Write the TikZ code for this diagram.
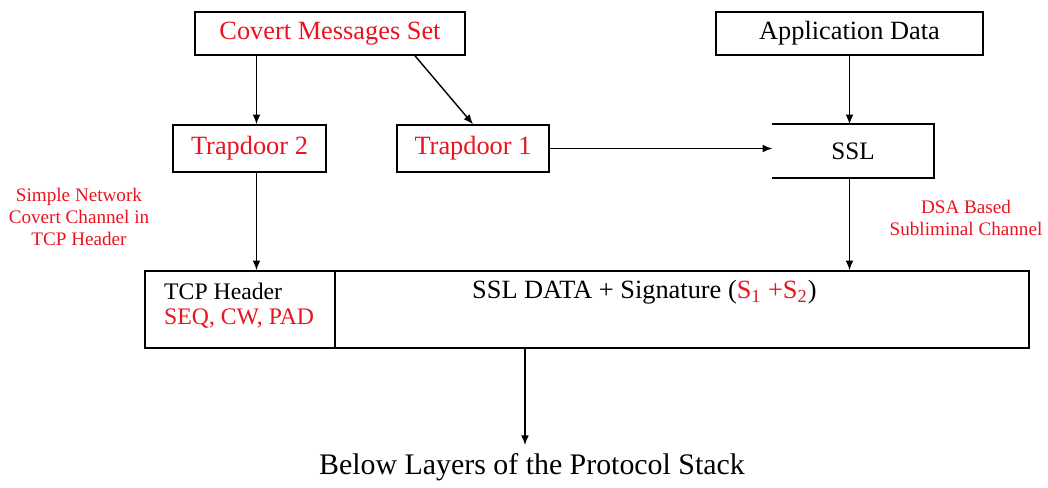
\documentclass[tikz,border=0pt]{standalone}
\usepackage{fontspec}
\setmainfont{Liberation Serif}
\usetikzlibrary{arrows.meta}
\usetikzlibrary{positioning}
\usetikzlibrary{calc}
\definecolor{covred}{RGB}{232,20,32}
\tikzstyle{block}=[rectangle,draw=black,line width=0.9pt,fill=white,inner sep=0pt,font=\fontsize{15}{17}\selectfont]
\tikzstyle{redlabel}=[text=covred]
\tikzstyle{note}=[text=covred,align=center,font=\fontsize{10.9}{12.5}\selectfont]
\tikzstyle{arr}=[-{Latex[length=5.5pt,width=4.5pt]},line width=0.8pt]

\begin{document}
\begin{tikzpicture}[x=0.02cm,y=-0.02cm]
\useasboundingbox (0,0) rectangle (1048,487);

%top row
    \node[block,redlabel,minimum width=5.4cm,minimum height=0.86cm] (cms) at (330,33.5) {Covert Messages Set};
    \node[block,minimum width=5.34cm,minimum height=0.86cm] (app) at (849.5,33.5) {Application Data};

%trapdoors and SSL
    \node[block,redlabel,minimum width=3.06cm,minimum height=0.94cm] (td2) at (249.5,148.5) {Trapdoor 2};
    \node[block,redlabel,minimum width=3.04cm,minimum height=0.94cm] (td1) at (473,148.5) {Trapdoor 1};
    \node[block,draw=none,fill=none,font=\fontsize{14.3}{16}\selectfont,minimum width=3.2cm,minimum height=1.04cm] (ssl) at (853,151) {SSL};
    \draw[line width=0.9pt] (ssl.north west) -- (ssl.north east) -- (ssl.south east) -- (ssl.south west);

%packet
    \node[block,minimum width=3.8cm,minimum height=1.54cm] (tcp) at (240,309.5) {};
    \node[block,minimum width=13.88cm,minimum height=1.54cm] (data) at (682,309.5) {};
    \node[anchor=west,font=\fontsize{13.5}{16}\selectfont] (tcph) at (158,291) {TCP Header};
    \node[anchor=west,redlabel,font=\fontsize{13.5}{16}\selectfont] (seq) at (158,319) {SEQ, CW, PAD};
    \node[anchor=west,font=\fontsize{15}{17}\selectfont] (sig) at (466,292) {SSL DATA + Signature (\textcolor{covred}{S\textsubscript{1} +S\textsubscript{2}})};

%notes
    \node[note] (simple) at (79,217) {Simple Network\\Covert Channel in\\TCP Header};
    \node[note] (dsa) at (966,218) {DSA Based\\Subliminal Channel};

    \node[font=\fontsize{17}{20}\selectfont] (below) at (532,467) {Below Layers of the Protocol Stack};
    \coordinate (dn) at (525,445);

%arrows
    \draw[arr] ([xshift=0.14cm]td2.north |- cms.south) -- ([xshift=0.14cm]td2.north);
    \draw[arr] ([xshift=1.7cm]cms.south) -- (td1.north);
    \draw[arr] (app.south) -- (app.south |- ssl.north);
    \draw[arr] (td1.east) -- (td1.east -| ssl.west);
    \draw[arr] ([xshift=0.14cm]td2.south) -- ([xshift=0.14cm]td2.south |- tcp.north);
    \draw[arr] (app.south |- ssl.south) -- (app.south |- data.north);
    \draw[arr] (data.south -| dn) -- (dn);

\end{tikzpicture}
\end{document}
